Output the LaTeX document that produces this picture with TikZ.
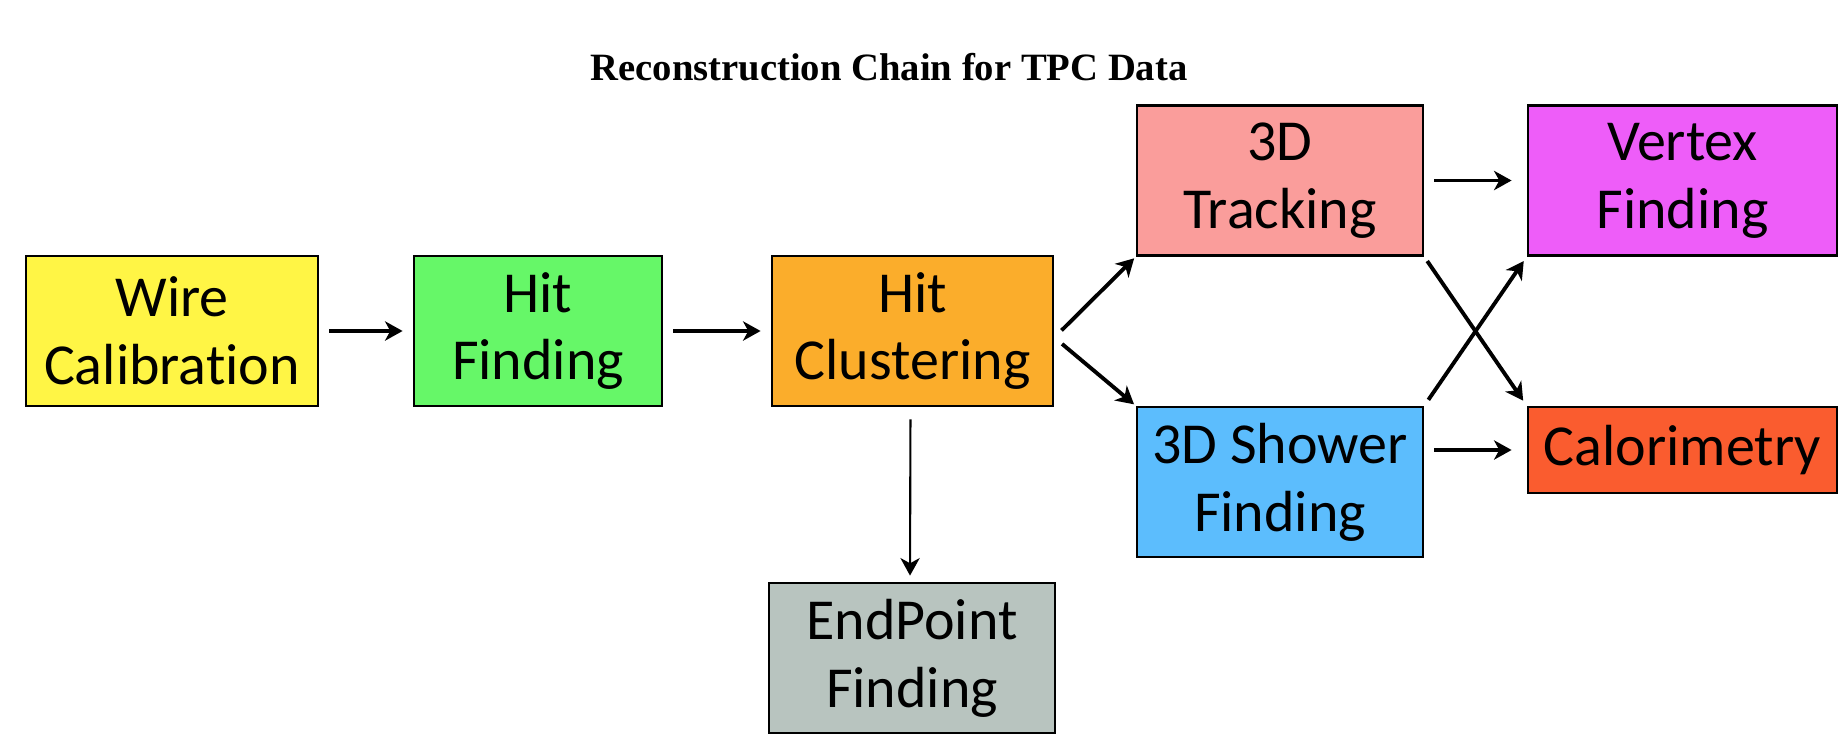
\documentclass[tikz,border=0pt]{standalone}
\usepackage{fontspec}
\setmainfont{Carlito}[Ligatures=NoCommon]
\newfontfamily\titlefont{Liberation Serif}
\usetikzlibrary{arrows.meta}
\definecolor{Wirecol}{HTML}{FFF545}
\definecolor{Hitcol}{HTML}{66F768}
\definecolor{Clustcol}{HTML}{FBAD2B}
\definecolor{Trackcol}{HTML}{FA9D9B}
\definecolor{Vertcol}{HTML}{EE5DF9}
\definecolor{Showcol}{HTML}{5CBDFD}
\definecolor{Calocol}{HTML}{FA5C2F}
\definecolor{Endcol}{HTML}{B8C4BF}

\begin{document}
\begin{tikzpicture}[
 stage/.style={draw=black,line width=0.8pt,inner sep=0pt,align=center,minimum height=1.5cm,
   font=\fontsize{16.5}{19.3}\selectfont},
 flow/.style={-{Stealth[length=5pt,width=5.5pt,inset=1.5pt]},line width=1.1pt,
   shorten <=0.1cm,shorten >=0.1cm}]
\useasboundingbox (0,0) rectangle (18.46,7.52);
\node[font=\titlefont\bfseries\fontsize{11}{13}\selectfont] (title) at (8.89,6.85) {Reconstruction Chain for TPC Data};

\node[stage,fill=Wirecol,minimum width=2.92cm] (wire) at (1.72,4.21) {Wire\\Calibration};
\node[stage,fill=Hitcol,minimum width=2.48cm] (hitfind) at (5.38,4.21) {Hit\\Finding};
\node[stage,fill=Clustcol,minimum width=2.81cm] (hitclus) at (9.125,4.21) {Hit\\Clustering};
\node[stage,fill=Trackcol,minimum width=2.86cm] (track) at (12.80,5.715) {3D\\Tracking};
\node[stage,fill=Vertcol,minimum width=3.09cm] (vertex) at (16.825,5.715) {Vertex\\Finding};
\node[stage,fill=Showcol,minimum width=2.86cm] (shower) at (12.80,2.70) {3D Shower\\Finding};
\node[stage,fill=Calocol,minimum width=3.09cm,minimum height=0.86cm] (calo) at (16.825,3.02) {Calorimetry};
\node[stage,fill=Endcol,minimum width=2.86cm] (endpt) at (9.12,0.94) {EndPoint\\Finding};

\draw[flow] (wire) -- (hitfind);
\draw[flow] (hitfind) -- (hitclus);
\draw[flow,shorten >=0.02cm] ([yshift=-0.065cm]hitclus.east) -- (track.south west);
\draw[flow,shorten >=0.02cm] ([yshift=-0.065cm]hitclus.east) -- (shower.north west);
\draw[flow,shorten >=0.15cm] (track) -- (vertex);
\draw[flow,shorten <=0.05cm,shorten >=0.06cm] (track.south east) -- (calo.north west);
\draw[flow,shorten <=0.07cm,shorten >=0.05cm] (shower.north east) -- (vertex.south west);
\draw[flow,shorten >=0.15cm] (shower.east |- calo.west) -- (calo.west);
\draw[flow,line width=0.6pt,shorten <=0.12cm,shorten >=0.06cm] ([xshift=-0.02cm]hitclus.south) -- ([xshift=-0.02cm]endpt.north);
\end{tikzpicture}
\end{document}
